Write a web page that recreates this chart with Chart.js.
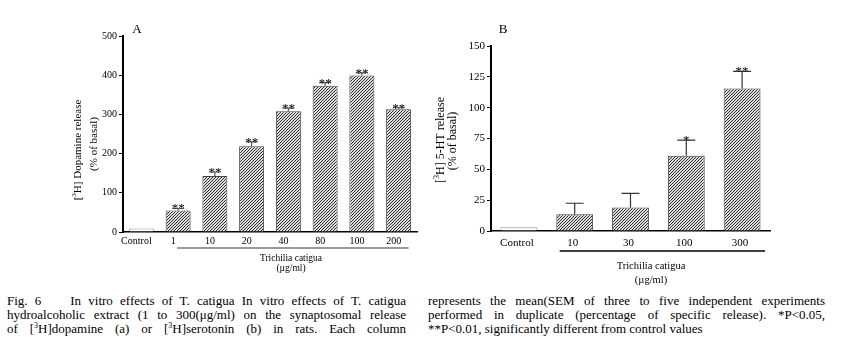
<!DOCTYPE html>
<html>
<head>
<meta charset="utf-8">
<script src="https://cdn.jsdelivr.net/npm/chart.js@4/dist/chart.umd.min.js"></script>
<style>
  body { margin: 0; background: #fff; width: 843px; height: 352px; position: relative; overflow: hidden; font-family: "Liberation Serif", serif; }
  #cA { position: absolute; left: 0; top: 0; }
  #cB { position: absolute; left: 430px; top: 0; }
  .cap { position: absolute; top: 294px; font-size: 13px; line-height: 14px; color: #000; }
  .cap div { text-align: justify; text-align-last: justify; }
  .cap div.last { text-align-last: left; }
  .cap sup { font-size: 8px; line-height: 0; vertical-align: 5px; }
</style>
</head>
<body>
<canvas id="cA" width="430" height="290"></canvas>
<canvas id="cB" width="413" height="290"></canvas>

<div class="cap" style="left:7px;width:399px">
  <div>Fig. 6 &nbsp;&nbsp; In vitro effects of T. catigua In vitro effects of T. catigua</div>
  <div>hydroalcoholic extract (1 to 300(μg/ml) on the synaptosomal release</div>
  <div>of [<sup>3</sup>H]dopamine (a) or [<sup>3</sup>H]serotonin (b) in rats. Each column</div>
</div>
<div class="cap" style="left:428px;width:397px">
  <div>represents the mean(SEM of three to five independent experiments</div>
  <div>performed in duplicate (percentage of specific release). *P&lt;0.05,</div>
  <div class="last">**P&lt;0.01, significantly different from control values</div>
</div>

<script>
// panel A: dopamine release
const labelsA = ["Control", "1", "10", "20", "40", "80", "100", "200"];
const dopamine = [9, 55, 143, 219, 308, 373, 399, 313];
const dopamineErr = [0, 5, 10, 11, 8, 8, 7, 4];
const sigA = ["", "**", "**", "**", "**", "**", "**", "**"];

// panel B: serotonin release
const labelsB = ["Control", "10", "30", "100", "300"];
const serotonin = [3, 13.5, 19, 61, 115.5];
const serotoninErr = [0, 9, 11.5, 12.7, 14];
const sigB = ["", "", "", "*", "**"];

const FONT = '"Liberation Serif", serif';

function hatch() {
  const c = document.createElement("canvas");
  c.width = 3; c.height = 3;
  const g = c.getContext("2d");
  g.fillStyle = "#dcdcdc";
  g.fillRect(0, 0, 3, 3);
  g.fillStyle = "#333333";
  g.fillRect(2, 0, 1, 1);
  g.fillRect(1, 1, 1, 1);
  g.fillRect(0, 2, 1, 1);
  return g.createPattern(c, "repeat");
}

// rotated axis title with a superscript part
function drawTitle(ctx, cx, cy, size, pre, sup, post) {
  ctx.save();
  ctx.translate(cx, cy);
  ctx.rotate(-Math.PI / 2);
  const f = size + "px " + FONT, fs = Math.round(size * 0.65) + "px " + FONT;
  ctx.font = f;
  const w1 = ctx.measureText(pre).width, w3 = ctx.measureText(post).width;
  ctx.font = fs;
  const w2 = ctx.measureText(sup).width;
  const sx = -(w1 + w2 + w3) / 2;
  ctx.textBaseline = "middle";
  ctx.textAlign = "left";
  ctx.fillStyle = "#000";
  ctx.font = f; ctx.fillText(pre, sx, 0);
  ctx.font = fs; ctx.fillText(sup, sx + w1, -size * 0.35);
  ctx.font = f; ctx.fillText(post, sx + w1 + w2, 0);
  ctx.restore();
}

const extras = {
  id: "extras",
  afterDatasetsDraw(chart, args, o) {
    const ctx = chart.ctx, x = chart.scales.x, y = chart.scales.y;
    const vals = chart.data.datasets[0].data;
    ctx.save();

    // error bars (upper only) and significance marks
    vals.forEach((v, i) => {
      const cx = x.getPixelForValue(i);
      const top = y.getPixelForValue(v + o.err[i]);
      if (o.err[i]) {
        ctx.strokeStyle = o.errColor;
        ctx.lineWidth = 1.2;
        ctx.beginPath();
        ctx.moveTo(cx, y.getPixelForValue(v));
        ctx.lineTo(cx, top);
        ctx.moveTo(cx - o.cap / 2, top);
        ctx.lineTo(cx + o.cap / 2, top);
        ctx.stroke();
      }
      if (o.sig[i]) {
        ctx.fillStyle = "#000";
        ctx.font = o.sigSize + "px " + FONT;
        ctx.textAlign = "center";
        ctx.textBaseline = "alphabetic";
        ctx.fillText(o.sig[i], cx, top + 4);
      }
    });

    // line under the dose labels
    ctx.strokeStyle = o.lineColor;
    ctx.lineWidth = 1.5;
    ctx.beginPath();
    ctx.moveTo(x.getPixelForValue(o.lineFrom[0]) + o.lineFrom[1], o.lineY);
    ctx.lineTo(x.getPixelForValue(o.lineTo[0]) + o.lineTo[1], o.lineY);
    ctx.stroke();

    ctx.fillStyle = "#000";
    ctx.textAlign = "center";
    ctx.textBaseline = "middle";
    ctx.font = o.groupSize + "px " + FONT;
    ctx.fillText("Trichilia catigua", o.groupX, o.groupY[0]);
    ctx.fillText("(µg/ml)", o.groupX, o.groupY[1]);

    ctx.font = "13px " + FONT;
    ctx.fillText(o.letter, o.letterPos[0], o.letterPos[1]);

    drawTitle(ctx, o.t1[0], o.t1[1], o.titleSize, "[", "3", o.t1[2]);
    ctx.font = o.titleSize + "px " + FONT;
    ctx.save();
    ctx.translate(o.t2[0], o.t2[1]);
    ctx.rotate(-Math.PI / 2);
    ctx.fillText("(% of basal)", 0, 0);
    ctx.restore();

    ctx.restore();
  }
};

function makeChart(id, labels, values, opts) {
  const pat = hatch();
  return new Chart(document.getElementById(id), {
    type: "bar",
    data: {
      labels: labels,
      datasets: [{
        data: values,
        backgroundColor: values.map((v, i) => i === 0 ? "#ffffff" : pat),
        borderColor: values.map((v, i) => i === 0 ? "#999999" : "#444444"),
        borderWidth: 1,
        barPercentage: opts.barPct,
        categoryPercentage: 1
      }]
    },
    options: {
      responsive: false,
      animation: false,
      devicePixelRatio: 1,
      layout: { padding: opts.padding },
      plugins: { legend: { display: false }, tooltip: { enabled: false }, extras: opts.extras },
      scales: {
        x: {
          grid: { display: true, drawOnChartArea: false, drawTicks: false },
          border: { display: true, color: "#000", width: 1.5 },
          ticks: { font: { family: FONT, size: opts.xSize }, color: "#000", padding: opts.xPad, labelOffset: opts.labelOffset, maxRotation: 0, autoSkip: false },
          afterFit: s => { s.height = 22; }
        },
        y: {
          min: 0,
          max: opts.yMax,
          ticks: { stepSize: opts.step, font: { family: FONT, size: opts.ySize }, color: "#000", padding: 2 },
          grid: { drawOnChartArea: false, tickLength: 4, color: "#000", lineWidth: 1 },
          border: { color: "#000", width: 2 },
          afterFit: s => { s.width = opts.yWidth; }
        }
      }
    },
    plugins: [extras]
  });
}

makeChart("cA", labelsA, dopamine, {
  barPct: 0.68, yMax: 500, step: 100, xSize: 10, ySize: 10, xPad: 3, labelOffset: -5,
  yWidth: 123, padding: { left: 0, right: 13, top: 36, bottom: 36 },
  extras: {
    err: dopamineErr, sig: sigA, errColor: "#555", cap: 12, sigSize: 13,
    lineFrom: [1, -1], lineTo: [7, 10], lineY: 248, lineColor: "#777",
    groupX: 291, groupY: [258, 268], groupSize: 9.5,
    letter: "A", letterPos: [137, 30],
    titleSize: 11, t1: [78, 150, "H] Dopamine release"], t2: [94, 144]
  }
});

makeChart("cB", labelsB, serotonin, {
  barPct: 0.66, yMax: 150, step: 25, xSize: 11, ySize: 11, xPad: 6, labelOffset: -2,
  yWidth: 61, padding: { left: 0, right: 73, top: 46, bottom: 37 },
  extras: {
    err: serotoninErr, sig: sigB, errColor: "#333", cap: 18, sigSize: 13,
    lineFrom: [1, -15], lineTo: [4, 23], lineY: 251, lineColor: "#000",
    groupX: 221, groupY: [266, 280], groupSize: 10.5,
    letter: "B", letterPos: [73, 30],
    titleSize: 12, t1: [11, 140, "H] 5-HT release"], t2: [23, 141]
  }
});
</script>
</body>
</html>
